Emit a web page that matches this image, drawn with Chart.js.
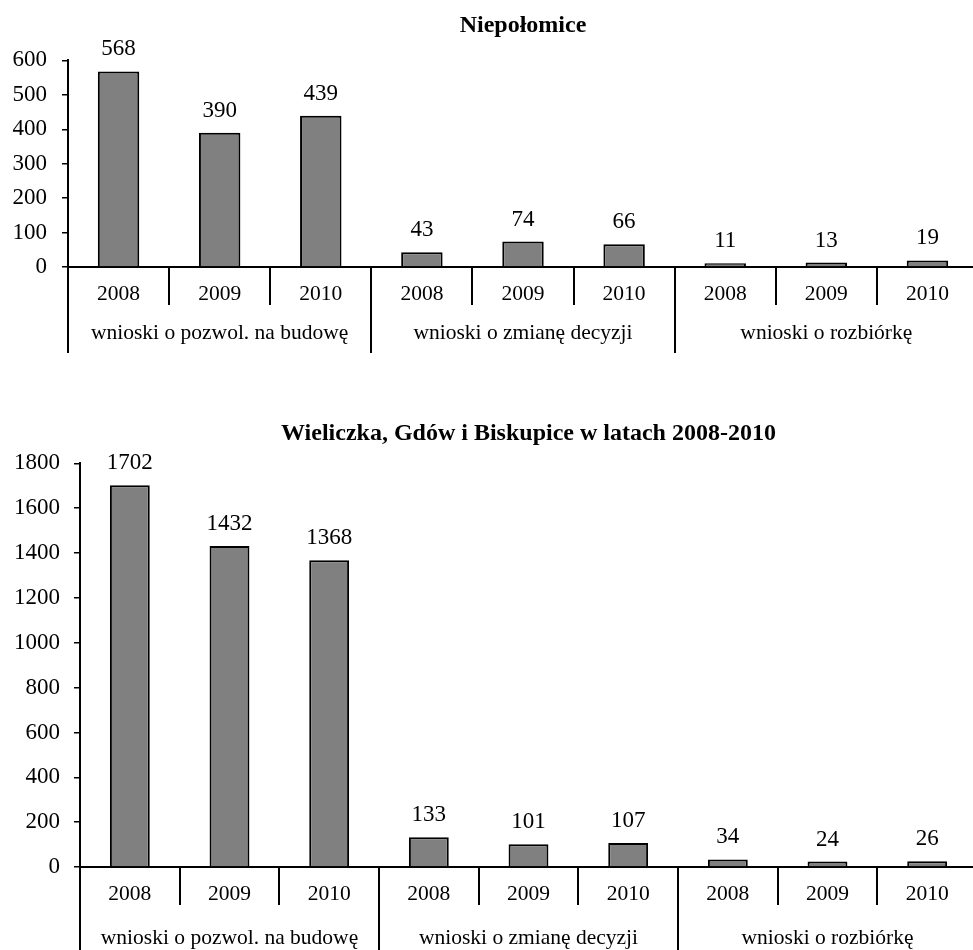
<!DOCTYPE html>
<html lang="pl">
<head>
<meta charset="utf-8">
<title>Wnioski 2008-2010</title>
<script src="https://cdn.jsdelivr.net/npm/chart.js@4.4.1/dist/chart.umd.min.js"></script>
<style>
    html, body { margin: 0; padding: 0; background: #fff; width: 973px; height: 950px; overflow: hidden; }
    .box { position: absolute; left: 0; }
    #topBox { top: 0; }
    #bottomBox { top: 405px; }
</style>
</head>
<body>
<div class="box" id="topBox"><canvas id="chartTop" width="1000" height="357"></canvas></div>
<div class="box" id="bottomBox"><canvas id="chartBottom" width="1000" height="545"></canvas></div>
<script>
// Dane
const years = ['2008', '2009', '2010', '2008', '2009', '2010', '2008', '2009', '2010'];
const groups = ['wnioski o pozwol. na budowę', 'wnioski o zmianę decyzji', 'wnioski o rozbiórkę'];
const niepolomiceValues = [568, 390, 439, 43, 74, 66, 11, 13, 19];
const wieliczkaValues = [1702, 1432, 1368, 133, 101, 107, 34, 24, 26];
const niepolomiceTicks = [0, 100, 200, 300, 400, 500, 600];
const wieliczkaTicks = [0, 200, 400, 600, 800, 1000, 1200, 1400, 1600, 1800];

const serif = '"Liberation Serif", "Times New Roman", serif';
Chart.defaults.font.family = serif;
Chart.defaults.color = '#000';

// Linie podziału, etykiety grup i wartości nad słupkami
const groupPlugin = {
    id: 'groupPlugin',
    afterDraw(chart, args, opts) {
        const ctx = chart.ctx;
        const x = chart.scales.x;
        const area = chart.chartArea;
        const half = (x.getPixelForValue(1) - x.getPixelForValue(0)) / 2;

        ctx.save();
        ctx.strokeStyle = '#000';
        ctx.lineWidth = 2;
        for (let i = 0; i <= years.length; i++) {
            const px = Math.round(x.getPixelForValue(i) - half);
            const len = i % 3 === 0 ? opts.groupLen : opts.yearLen;
            ctx.beginPath();
            ctx.moveTo(px, area.bottom);
            ctx.lineTo(px, area.bottom + len);
            ctx.stroke();
        }

        ctx.fillStyle = '#000';
        ctx.textAlign = 'center';
        ctx.textBaseline = 'middle';
        ctx.font = '21.5px ' + serif;
        groups.forEach((g, k) => {
            ctx.fillText(g, x.getPixelForValue(k * 3 + 1), area.bottom + opts.groupY);
        });

        ctx.textBaseline = 'alphabetic';
        ctx.font = '23px ' + serif;
        const values = chart.data.datasets[0].data;
        chart.getDatasetMeta(0).data.forEach((bar, i) => {
            ctx.fillText(values[i], bar.x, bar.y - opts.labelGap);
        });
        ctx.restore();
    }
};

function makeChart(id, title, values, ticks, cfg) {
    const ctx = document.getElementById(id).getContext('2d');
    return new Chart(ctx, {
        type: 'bar',
        data: {
            labels: years,
            datasets: [{
                data: values,
                backgroundColor: '#808080',
                borderColor: '#000',
                borderWidth: 2,
                barPercentage: cfg.barPct,
                categoryPercentage: 1
            }]
        },
        options: {
            responsive: false,
            animation: false,
            layout: { padding: { left: 0, right: cfg.padRight, top: 0, bottom: 0 } },
            plugins: {
                legend: { display: false },
                tooltip: { enabled: false },
                title: {
                    display: true,
                    text: title,
                    fullSize: false,
                    color: '#000',
                    font: { size: 24, weight: 'bold', family: serif, lineHeight: 1.1 },
                    padding: { top: cfg.titleTop, bottom: cfg.titleBottom }
                },
                groupPlugin: {
                    yearLen: 38,
                    groupLen: cfg.groupLen,
                    groupY: cfg.groupY,
                    labelGap: 16
                }
            },
            scales: {
                x: {
                    grid: { display: false, drawTicks: false },
                    border: { display: true, color: '#000', width: 2 },
                    ticks: { font: { size: 21.5 }, padding: 14, maxRotation: 0, autoSkip: false },
                    afterFit: scale => { scale.height = cfg.xHeight; }
                },
                y: {
                    min: ticks[0],
                    max: ticks[ticks.length - 1],
                    afterBuildTicks: scale => { scale.ticks = ticks.map(v => ({ value: v })); },
                    grid: { drawOnChartArea: false, drawTicks: true, tickLength: 6, color: '#000', lineWidth: 1.5 },
                    border: { display: true, color: '#000', width: 2 },
                    ticks: {
                        font: { size: 23 },
                        padding: cfg.tickPad,
                        callback: value => String(value)
                    },
                    afterFit: scale => { scale.width = cfg.yWidth; }
                }
            }
        },
        plugins: [groupPlugin]
    });
}

makeChart('chartTop', 'Niepołomice', niepolomiceValues, niepolomiceTicks, {
    padRight: 22, titleTop: 13, titleBottom: 21, xHeight: 90, yWidth: 68, tickPad: 15,
    groupLen: 86, groupY: 66, barPct: 0.41
});

makeChart('chartBottom', 'Wieliczka, Gdów i Biskupice w latach 2008-2010', wieliczkaValues, wieliczkaTicks, {
    padRight: 23, titleTop: 16, titleBottom: 16, xHeight: 83, yWidth: 80, tickPad: 14,
    groupLen: 90, groupY: 71, barPct: 0.4
});
</script>
</body>
</html>
